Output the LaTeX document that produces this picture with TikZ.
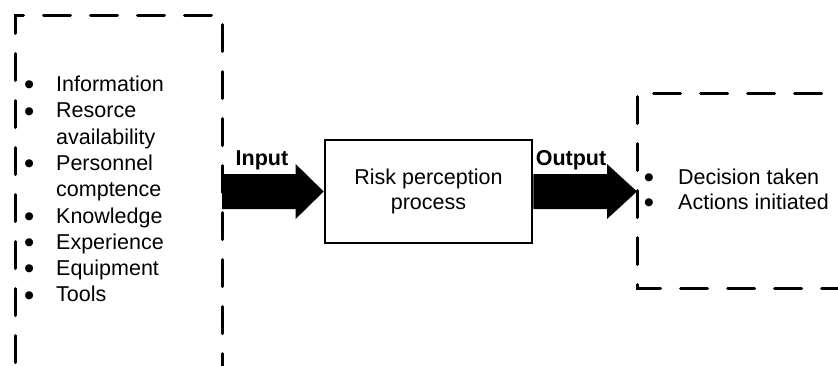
\documentclass[tikz,border=0pt]{standalone}
\usepackage{fontspec}
\setmainfont{Liberation Sans}
\newfontfamily\dotfont{DejaVu Sans}
\usetikzlibrary{calc}
\tikzset{
  dashline/.style={draw, line width=3pt, line cap=round, dash pattern=on 27pt off 20pt},
  procbox/.style={draw, line width=2.7pt, minimum width=207pt, minimum height=103pt,
    inner sep=0pt, align=center, font=\fontsize{21.5}{25}\selectfont},
  listtext/.style={inner sep=0pt, anchor=base west},
  flowlabel/.style={inner sep=0pt, anchor=base, font=\bfseries\fontsize{21.5}{25}\selectfont},
  bigarrow/.style={fill=black}
}
% list bullet: a filled circle glyph, set in a fixed-width cell
\newcommand\bulletcell[1]{\makebox[#1][l]{\hspace{1pt}\raisebox{3.8pt}{\dotfont\fontsize{10.5}{12}\selectfont ●}}}
\begin{document}
\begin{tikzpicture}[x=1pt, y=-1pt]
  \useasboundingbox (0,0) rectangle (838,365);
  \clip (0,0) rectangle (838,365);

  % corners of the dashed frames
  \coordinate (lboxNW) at (15,15);
  \coordinate (lboxNE) at (222,15);
  \coordinate (rboxNW) at (637,93);
  \coordinate (rboxSW) at (637,288);

  % input frame (open towards the bottom edge)
  \draw[dashline, dash phase=42.5pt]
    (lboxNW |- 0,367) -- (lboxNW) -- (lboxNE) -- (lboxNE |- 0,367);

  % output frame (open towards the right edge)
  \draw[dashline, dash phase=43.5pt] (rboxNW) -- (rboxSW) -- (rboxSW -| 900,0);
  \draw[dashline, dash phase=30.5pt] (rboxNW) -- (rboxNW -| 900,0);

  % central process
  \node[procbox] (proc) at (428.5,191.5) {Risk perception\\process};

  % input list
  \node[listtext] (inlist) at (23.4,91.5) {\fontsize{21.5}{26.3}\selectfont
    \begin{tabular}[t]{@{}l@{}l@{}}
      \bulletcell{32.6pt} & Information\\
      \bulletcell{32.6pt} & Resorce\\
                          & availability\\
      \bulletcell{32.6pt} & Personnel\\
                          & comptence\\
      \bulletcell{32.6pt} & Knowledge\\
      \bulletcell{32.6pt} & Experience\\
      \bulletcell{32.6pt} & Equipment\\
      \bulletcell{32.6pt} & Tools
    \end{tabular}};

  % output list
  \node[listtext] (outlist) at (643.2,184) {\fontsize{21.5}{25.3}\selectfont
    \begin{tabular}[t]{@{}l@{}l@{}}
      \bulletcell{34.8pt} & Decision taken\\
      \bulletcell{34.8pt} & Actions initiated
    \end{tabular}};

  % block arrows
  \coordinate (inS) at (lboxNE |- proc.west);
  \fill[bigarrow] ($(inS)+(0,-17.5)$) -- ($(proc.west)+(-28,-17.5)$)
    -- ($(proc.west)+(-28,-27.5)$) -- (proc.west) -- ($(proc.west)+(-28,27.5)$)
    -- ($(proc.west)+(-28,17.5)$) -- ($(inS)+(0,17.5)$) -- cycle;
  \coordinate (outE) at (rboxNW |- proc.east);
  \fill[bigarrow] ($(proc.east)+(0,-17.5)$) -- ($(outE)+(-30,-17.5)$)
    -- ($(outE)+(-30,-27.5)$) -- (outE) -- ($(outE)+(-30,27.5)$)
    -- ($(outE)+(-30,17.5)$) -- ($(proc.east)+(0,17.5)$) -- cycle;

  % arrow labels
  \node[flowlabel] (inlabel) at (262,165) {Input};
  \node[flowlabel] (outlabel) at (571,165) {Output};
\end{tikzpicture}
\end{document}
